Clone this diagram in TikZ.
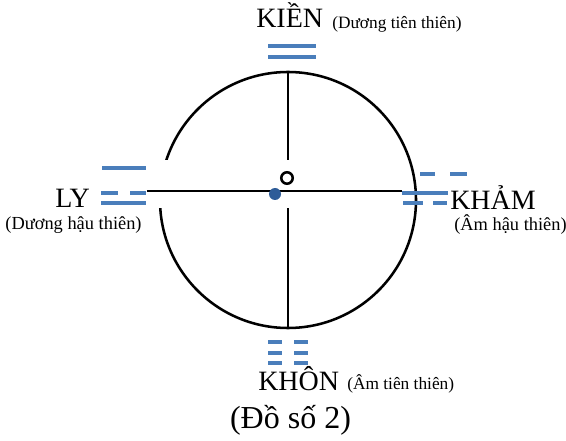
\documentclass[tikz,border=0pt]{standalone}
\usepackage{fontspec}
\setmainfont{Liberation Serif}
\usetikzlibrary{positioning}
\definecolor{yaoBlue}{RGB}{74,126,187}
\definecolor{dotBlue}{RGB}{46,92,152}
\begin{document}
\begin{tikzpicture}[
  x=0.75pt,y=-0.75pt,
  gualabel/.style={font=\fontsize{21}{24}\selectfont,inner sep=0pt,anchor=base west},
  gualnote/.style={font=\fontsize{13}{15}\selectfont,inner sep=0pt,anchor=base west},
  sidenote/.style={gualnote,font=\fontsize{13.8}{16}\selectfont},
  figcaption/.style={font=\fontsize{24}{28}\selectfont,inner sep=0pt,anchor=base},
  yao/.style={draw=yaoBlue,line width=3pt},
  rim/.style={draw=black,line width=1.9pt},
  axis/.style={draw=black,line width=1.1pt}
]
\useasboundingbox (0,0) rectangle (566,441);

% wheel and cross
\node[circle,rim,minimum size=192pt,inner sep=0pt] (wheel) at (288,200) {};
\draw[axis] (wheel.north) -- (wheel.south);
\fill[white] (147,160) rectangle (402,208);
\coordinate (lyEnd) at (147,191);
\coordinate (khamEnd) at (402,191);
\draw[axis] (lyEnd) -- (khamEnd);

% trigrams
\draw[yao] (268,46) -- (316,46);
\draw[yao] (268,57) -- (316,57);

\draw[yao] (102,168) -- (146,168);
\draw[yao] (101,193) -- (118,193) (130,193) -- (146,193);
\draw[yao] (101,203) -- (146,203);

\draw[yao] (420,174) -- (435,174) (450,174) -- (467,174);
\draw[yao] (402,193) -- (448,193);
\draw[yao] (403,203) -- (423,203) (433,203) -- (447,203);

\foreach \y in {342,353,363}
  \draw[yao] (268,\y) -- (282,\y) (294,\y) -- (308,\y);

% centre marks
\node[circle,draw=black,line width=1.9pt,minimum size=8.6pt,inner sep=0pt] (yang) at (287,178) {};
\node[circle,fill=dotBlue,minimum size=9pt,inner sep=0pt] (yin) at (275,194) {};

% labels
\node[gualabel] (kien) at (256,28) {KIỀN};
\node[gualnote] (kienNote) at (332,29) {(Dương tiên thiên)};
\node[gualabel] (ly) at (55,208) {LY};
\node[sidenote,anchor=base] (lyNote) at (73.5,229) {(Dương hậu thiên)};
\node[gualabel] (kham) at (450,210) {KHẢM};
\node[sidenote] (khamNote) at (454,230) {(Âm hậu thiên)};
\node[gualabel] (khon) at (258,390) {KHÔN};
\node[gualnote] (khonNote) at (347,389) {(Âm tiên thiên)};
\node[figcaption] (caption) at (290.5,428) {(Đồ số 2)};
\end{tikzpicture}
\end{document}
